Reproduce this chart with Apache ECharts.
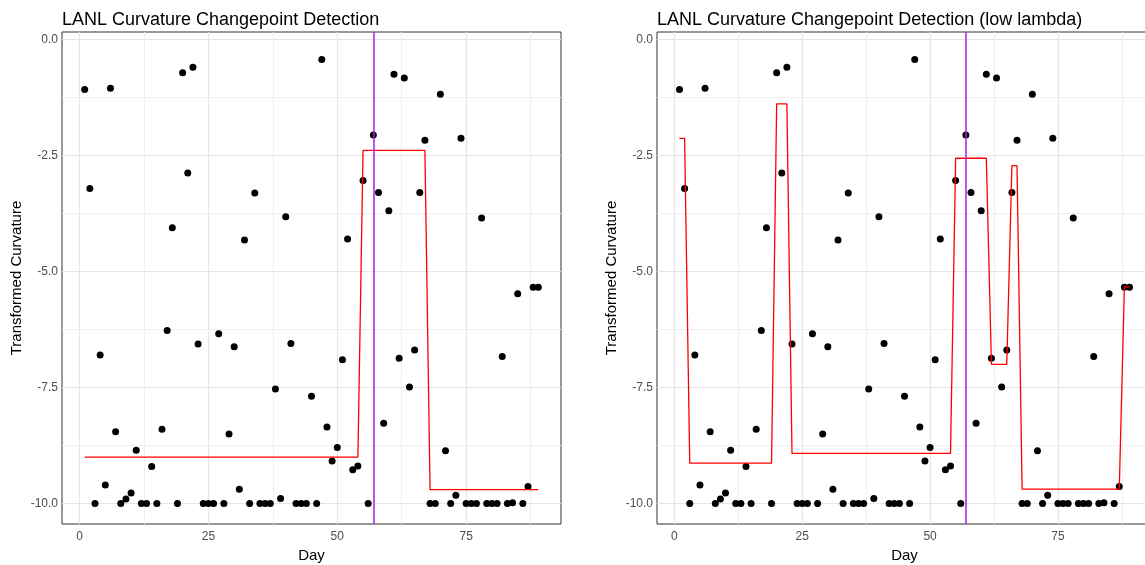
<!DOCTYPE html>
<html>
<head>
<meta charset="utf-8">
<script src="https://cdn.jsdelivr.net/npm/echarts@6/dist/echarts.min.js"></script>
<style>
  html, body { margin: 0; padding: 0; background: #fff; }
  #chart { width: 1145px; height: 565px; }
</style>
</head>
<body>
<div id="chart"></div>
<script>
// observed days and transformed curvature
var days = [1,2,3,4,5,6,7,8,9,10,11,12,13,14,15,16,17,18,19,20,
  21,22,23,24,25,26,27,28,29,30,31,32,33,34,35,36,37,38,39,40,
  41,42,43,44,45,46,47,48,49,50,51,52,53,54,55,56,57,58,59,60,
  61,62,63,64,65,66,67,68,69,70,71,72,73,74,75,76,77,78,79,80,
  81,82,83,84,85,86,87,88,89];
var curvature = [-1.08,-3.21,-10,-6.8,-9.6,-1.05,-8.45,-10,-9.9,-9.77,
  -8.85,-10,-10,-9.2,-10,-8.4,-6.27,-4.06,-10,-0.72,
  -2.88,-0.6,-6.56,-10,-10,-10,-6.34,-10,-8.5,-6.62,
  -9.69,-4.32,-10,-3.31,-10,-10,-10,-7.53,-9.89,-3.82,
  -6.55,-10,-10,-10,-7.69,-10,-0.43,-8.35,-9.08,-8.79,
  -6.9,-4.3,-9.27,-9.19,-3.04,-10,-2.06,-3.3,-8.27,-3.69,
  -0.75,-6.87,-0.83,-7.49,-6.69,-3.3,-2.17,-10,-10,-1.18,
  -8.86,-10,-9.82,-2.13,-10,-10,-10,-3.85,-10,-10,
  -10,-6.83,-10,-9.98,-5.48,-10,-9.63,-5.34,-5.34];

// fitted segments (vertices of the red line)
var fitDaysA = [1,54,55,67,68,89];
var fitValsA = [-9.0,-9.0,-2.39,-2.39,-9.70,-9.70];
var fitDaysB = [1,2,3,19,20,22,23,54,55,61,62,65,66,67,68,87,88,89];
var fitValsB = [-2.13,-2.13,-9.13,-9.13,-1.39,-1.39,-8.92,-8.92,-2.56,-2.56,-7.0,-7.0,-2.72,-2.72,-9.69,-9.69,-5.33,-5.33];

var changeDay = 57;
var titles = ['LANL Curvature Changepoint Detection', 'LANL Curvature Changepoint Detection (low lambda)'];

var xMajor = [0,25,50,75];
var xMinor = [12.5,37.5,62.5,87.5];
var yMajor = [-10,-7.5,-5,-2.5,0];
var yMinor = [-8.75,-6.25,-3.75,-1.25];

var FONT = 'Liberation Sans, Arial, Helvetica, sans-serif';

var chart = echarts.init(document.getElementById('chart'));

// second panel runs past the right edge of the picture (cropped)
var grids = [
  {left: 62, top: 32, width: 499, height: 492},
  {left: 657, top: 32, width: 495, height: 492}
];

function gridLines(idx) {
  var d = [];
  xMinor.forEach(function (v) { d.push({xAxis: v, lineStyle: {color: '#f0f0f0', width: 1}}); });
  yMinor.forEach(function (v) { d.push({yAxis: v, lineStyle: {color: '#f0f0f0', width: 1}}); });
  xMajor.forEach(function (v) { d.push({xAxis: v, lineStyle: {color: '#e6e6e6', width: 1.2}}); });
  yMajor.forEach(function (v) { d.push({yAxis: v, lineStyle: {color: '#e6e6e6', width: 1.2}}); });
  return {
    type: 'line', xAxisIndex: idx, yAxisIndex: idx, data: [], z: 1,
    markLine: {silent: true, z: 1, symbol: ['none', 'none'], label: {show: false},
      lineStyle: {type: 'solid'}, animation: false, data: d}
  };
}

var pts = days.map(function (d, i) { return [d, curvature[i]]; });
var fitA = fitDaysA.map(function (d, i) { return [d, fitValsA[i]]; });
var fitB = fitDaysB.map(function (d, i) { return [d, fitValsB[i]]; });

var series = [];
[fitA, fitB].forEach(function (fit, idx) {
  series.push(gridLines(idx));
  series.push({type: 'scatter', xAxisIndex: idx, yAxisIndex: idx, data: pts,
    symbol: 'circle', symbolSize: 7, itemStyle: {color: '#000', opacity: 1}, z: 2});
  series.push({type: 'line', xAxisIndex: idx, yAxisIndex: idx, data: fit,
    showSymbol: false, lineStyle: {color: '#ff0000', width: 1.3}, z: 3});
  series.push({type: 'line', xAxisIndex: idx, yAxisIndex: idx, data: [], z: 4,
    markLine: {silent: true, z: 6, symbol: ['none', 'none'], label: {show: false}, animation: false,
      lineStyle: {color: '#a020f0', width: 1.5, type: 'solid'},
      data: [{xAxis: changeDay}]}});
});

var option = {
  animation: false,
  textStyle: {fontFamily: FONT},
  title: titles.map(function (t, i) {
    return {text: t, left: grids[i].left, top: 11, padding: 0,
      textStyle: {fontSize: 18, fontWeight: 'normal', color: '#000', fontFamily: FONT}};
  }),
  grid: grids.map(function (g) {
    return {left: g.left, top: g.top, width: g.width, height: g.height,
      outerBoundsMode: 'none', containLabel: false,
      show: true, borderColor: '#333', borderWidth: 1, backgroundColor: '#fff'};
  }),
  xAxis: [0, 1].map(function (i) {
    return {type: 'value', gridIndex: i, min: -3.4, max: 93.4,
      name: 'Day', nameLocation: 'middle', nameGap: 22,
      nameTextStyle: {fontSize: 15, color: '#000', fontFamily: FONT},
      axisLine: {show: false},
      axisTick: {show: true, length: 4, lineStyle: {color: '#333'}, customValues: xMajor},
      axisLabel: {fontSize: 12, color: '#4d4d4d', margin: 7, customValues: xMajor, fontFamily: FONT},
      splitLine: {show: false}};
  }),
  yAxis: [0, 1].map(function (i) {
    return {type: 'value', gridIndex: i, min: -10.44, max: 0.16,
      name: 'Transformed Curvature', nameLocation: 'middle', nameGap: 38,
      nameTextStyle: {fontSize: 15, color: '#000', fontFamily: FONT},
      axisLine: {show: false},
      axisTick: {show: true, length: 4, lineStyle: {color: '#333'}, customValues: yMajor},
      axisLabel: {fontSize: 12, color: '#4d4d4d', margin: 4, customValues: yMajor, fontFamily: FONT,
        formatter: function (v) { return v.toFixed(1); }},
      splitLine: {show: false}};
  }),
  series: series
};

chart.setOption(option);
</script>
</body>
</html>
